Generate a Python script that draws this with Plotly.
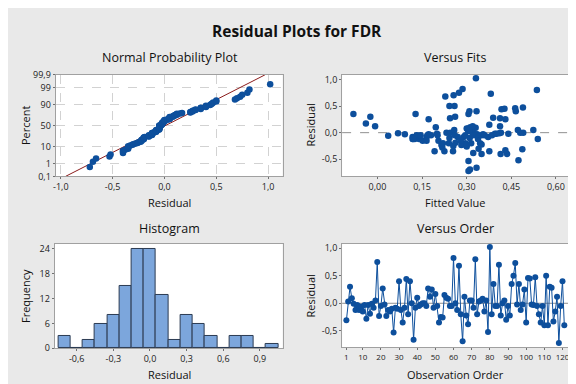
import plotly.graph_objects as go
from statistics import NormalDist, mean, stdev

# ---------------- data ----------------
residuals = [
    -0.31, 0.03, 0.30, 0.09, -0.01, -0.12, -0.03, -0.12, -0.06, -0.15,
    -0.03, -0.28, -0.03, -0.19, -0.01, -0.08, 0.05, 0.75, -0.23, -0.05,
    0.27, -0.02, -0.23, -0.12, -0.15, -0.10, -0.53, -0.08, -0.10, 0.40,
    -0.12, -0.35, -0.08, 0.44, -0.20, 0.40, 0.00, -0.66, -0.08, 0.10,
    -0.05, -0.02, 0.00, 0.00, -0.05, 0.27, 0.12, 0.25, -0.08, 0.17,
    -0.05, -0.35, -0.25, -0.26, 0.15, 0.10, 0.08, -0.05, -0.05, 0.82,
    0.00, -0.12, 0.68, -0.20, -0.69, 0.12, -0.22, -0.38, 0.05, 0.05,
    -0.08, 0.80, -0.20, 0.03, 0.05, 0.08, -0.15, 0.05, -0.52, 1.02,
    -0.20, 0.35, -0.05, -0.05, 0.70, -0.22, 0.00, 0.05, -0.30, -0.05,
    -0.22, 0.35, 0.50, 0.73, -0.02, 0.35, -0.12, -0.02, 0.25, -0.35,
    0.46, 0.45, -0.02, -0.03, 0.47, -0.05, -0.20, -0.35, -0.05, -0.40,
    0.50, -0.40, 0.30, 0.28, -0.33, -0.15, 0.12, -0.72, -0.05, 0.40,
    -0.40,
]
fitted = [
    0.487, 0.318, -0.024, 0.33, 0.069, 0.125, 0.092, 0.14, 0.036, 0.152,
    0.355, 0.218, 0.172, 0.262, 0.41, 0.118, 0.472, 0.274, 0.215, 0.18,
    0.412, 0.395, 0.282, 0.118, 0.205, 0.242, 0.306, 0.165, 0.31, 0.465,
    0.338, 0.376, 0.29, 0.417, 0.295, 0.333, 0.232, 0.333, 0.128, 0.196,
    0.35, 0.325, 0.245, 0.415, 0.168, 0.244, -0.008, 0.172, 0.27, -0.039,
    0.36, 0.192, 0.255, 0.30, 0.376, 0.312, 0.30, 0.202, 0.33, 0.286,
    0.49, 0.539, 0.228, 0.24, 0.311, 0.412, 0.285, 0.322, 0.524, 0.258,
    0.372, 0.536, 0.345, 0.305, 0.315, 0.305, 0.28, 0.322, 0.474, 0.331,
    0.22, 0.128, 0.385, 0.132, 0.256, 0.30, 0.48, 0.31, 0.34, 0.145,
    0.35, 0.306, 0.242, 0.381, 0.44, -0.081, 0.12, 0.40, 0.43, 0.225,
    0.463, 0.427, 0.20, 0.335, 0.489, 0.32, 0.315, 0.254, 0.26, 0.436,
    0.259, 0.414, 0.261, 0.389, 0.43, 0.165, 0.32, 0.306, 0.295, 0.309,
    0.35,
]
observation = list(range(1, len(residuals) + 1))

hist_centers = [-0.7, -0.6, -0.5, -0.4, -0.3, -0.2, -0.1, 0.0, 0.1,
                0.2, 0.3, 0.4, 0.5, 0.6, 0.7, 0.8, 0.9, 1.0]
hist_counts = [3, 0, 2, 6, 8, 15, 24, 24, 13, 2, 8, 6, 3, 0, 3, 3, 0, 1]

prob_percent_vals = [0.1, 1, 10, 50, 90, 99, 99.9]
prob_percent_text = ["0,1", "1", "10", "50", "90", "99", "99,9"]
npp_x_vals = [-1.0, -0.5, 0.0, 0.5, 1.0]
npp_x_text = ["-1,0", "-0,5", "0,0", "0,5", "1,0"]
res_vals = [-0.5, 0.0, 0.5, 1.0]
res_text = ["-0,5", "0,0", "0,5", "1,0"]
fit_vals = [0.0, 0.15, 0.30, 0.45, 0.60]
fit_text = ["0,00", "0,15", "0,30", "0,45", "0,60"]
hist_x_vals = [-0.6, -0.3, 0.0, 0.3, 0.6, 0.9]
hist_x_text = ["-0,6", "-0,3", "0,0", "0,3", "0,6", "0,9"]
hist_y_vals = [0, 6, 12, 18, 24]
order_vals = [1, 10, 20, 30, 40, 50, 60, 70, 80, 90, 100, 110, 120]

# ---------------- styling ----------------
W, H = 576, 384
FONT = "Open Sans"
BLUE = "#0d4f9c"
BG = "#e9e9e9"
FRAME = "#a0a0a0"

nd = NormalDist()
n = len(residuals)
sorted_res = sorted(residuals)
npp_z = [nd.inv_cdf((i + 1 - 0.3) / (n + 0.4)) for i in range(n)]
mu, sd = mean(residuals), stdev(residuals)
zlim = nd.inv_cdf(0.999)
line_x = [mu - zlim * sd, mu + zlim * sd]
line_y = [-zlim, zlim]
prob_tick_pos = [nd.inv_cdf(p / 100) for p in prob_percent_vals]

fig = go.Figure()

fig.add_trace(go.Scatter(x=line_x, y=line_y, mode="lines",
                         line=dict(color="#8b1c1c", width=1),
                         xaxis="x", yaxis="y", showlegend=False, hoverinfo="skip"))
fig.add_trace(go.Scatter(x=sorted_res, y=npp_z, mode="markers",
                         marker=dict(color=BLUE, size=6.5),
                         xaxis="x", yaxis="y", showlegend=False))

fig.add_trace(go.Scatter(x=fitted, y=residuals, mode="markers",
                         marker=dict(color=BLUE, size=6.5),
                         xaxis="x2", yaxis="y2", showlegend=False))

fig.add_trace(go.Bar(x=hist_centers, y=hist_counts, width=0.1,
                     marker=dict(color="#7ca6dc", line=dict(color="#2c3b52", width=1)),
                     xaxis="x3", yaxis="y3", showlegend=False))

fig.add_trace(go.Scatter(x=observation, y=residuals, mode="lines+markers",
                         line=dict(color=BLUE, width=1),
                         marker=dict(color=BLUE, size=6),
                         xaxis="x4", yaxis="y4", showlegend=False))


def px_x(a, b):
    return [a / W, b / W]


def px_y(top, bottom):
    return [1 - bottom / H, 1 - top / H]


tickfont = dict(family=FONT, size=9, color="#222")
common = dict(showline=True, mirror=True, linecolor=FRAME, linewidth=1,
              ticks="outside", ticklen=2, tickcolor="#707070",
              tickfont=tickfont, zeroline=False, fixedrange=True)
grid = dict(showgrid=True, gridcolor="#d2d2d2", griddash="dash", gridwidth=1)
nogrid = dict(showgrid=False)

fig.update_layout(
    width=W, height=H,
    margin=dict(l=0, r=0, t=0, b=0),
    paper_bgcolor=BG, plot_bgcolor="white",
    font=dict(family=FONT, color="#111"),
    bargap=0,
    xaxis=dict(domain=px_x(45, 274), range=[-1.05, 1.14], anchor="y",
               tickvals=npp_x_vals, ticktext=npp_x_text, **grid, **common),
    yaxis=dict(domain=px_y(62, 167), range=[-zlim, zlim], anchor="x",
               tickvals=prob_tick_pos, ticktext=prob_percent_text, **grid, **common),
    xaxis2=dict(domain=px_x(334, 562), range=[-0.119, 0.641], anchor="y2",
                tickvals=fit_vals, ticktext=fit_text, **nogrid, **common),
    yaxis2=dict(domain=px_y(62, 167), range=[-0.82, 1.084], anchor="x2",
                tickvals=res_vals, ticktext=res_text, **nogrid, **common),
    xaxis3=dict(domain=px_x(44, 274), range=[-0.781, 1.086], anchor="y3",
                tickvals=hist_x_vals, ticktext=hist_x_text, **nogrid, **common),
    yaxis3=dict(domain=px_y(237, 345), range=[0, 25.2], anchor="x3",
                tickvals=hist_y_vals, **nogrid, **common),
    xaxis4=dict(domain=px_x(334, 562), range=[-1.36, 123.1], anchor="y4",
                tickvals=order_vals, **nogrid,
                **{**common, "tickfont": dict(family=FONT, size=8, color="#222")}),
    yaxis4=dict(domain=px_y(237, 344), range=[-0.80, 1.076], anchor="x4",
                tickvals=res_vals, ticktext=res_text, **nogrid, **common),
    shapes=[
        dict(type="line", xref="x2 domain", yref="y2", x0=0, x1=1, y0=0, y1=0,
             line=dict(color="#909090", width=1, dash="dash"), layer="below"),
        dict(type="line", xref="x4 domain", yref="y4", x0=0, x1=1, y0=0, y1=0,
             line=dict(color="#909090", width=1), layer="below"),
    ],
)

ann = []


def text(x, y, s, size, bold=False, angle=0):
    ann.append(dict(x=x / W, y=1 - y / H, xref="paper", yref="paper",
                    text=("<b>%s</b>" % s) if bold else s, showarrow=False,
                    textangle=angle, xanchor="center", yanchor="middle",
                    font=dict(family=FONT, size=size, color="#111")))


text(288, 17, "Residual Plots for FDR", 15.5, bold=True)
text(160, 44, "Normal Probability Plot", 12.5)
text(448, 44, "Versus Fits", 12.5)
text(160, 221, "Histogram", 12.5)
text(448, 221, "Versus Order", 12.5)
text(160, 194, "Residual", 11)
text(448, 194, "Fitted Value", 11)
text(160, 372, "Residual", 11)
text(448, 372, "Observation Order", 11)
text(14, 114, "Percent", 11, angle=-90)
text(302, 114, "Residual", 11, angle=-90)
text(14, 291, "Frequency", 11, angle=-90)
text(302, 291, "Residual", 11, angle=-90)
fig.update_layout(annotations=ann)

fig.write_html("out.html")
